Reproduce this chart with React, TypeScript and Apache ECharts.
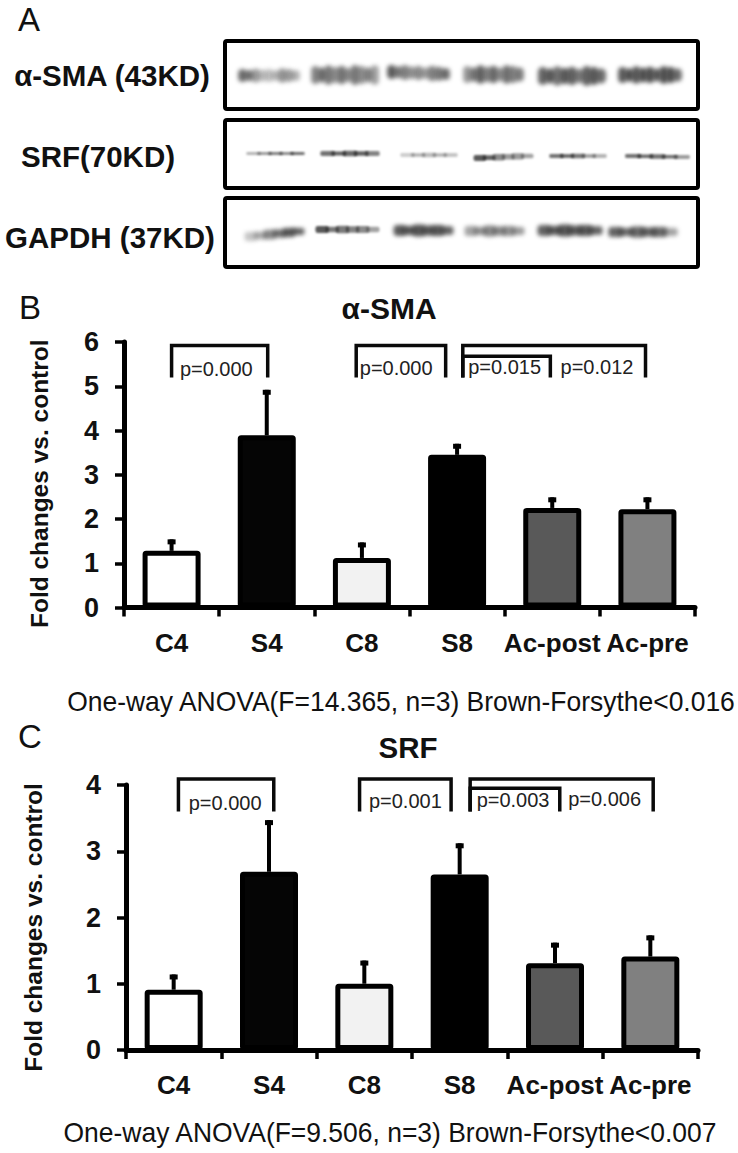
import React, { useEffect, useRef } from "react";
import * as echarts from "echarts";

const FONT = '"Liberation Sans", Arial, sans-serif';

const categories = ["C4", "S4", "C8", "S8", "Ac-post", "Ac-pre"];
const barColors = ["#ffffff", "#050505", "#f2f2f2", "#000000", "#595959", "#808080"];

const smaValues = [1.28, 3.89, 1.12, 3.45, 2.25, 2.22];
const smaErrorTops = [1.54, 4.92, 1.47, 3.7, 2.49, 2.49];
const srfValues = [0.91, 2.69, 1.0, 2.65, 1.31, 1.41];
const srfErrorTops = [1.14, 3.47, 1.35, 3.12, 1.62, 1.73];

// [from category, to category, top, bottom, label, label at category, label value]
const smaBrackets = [
  [0, 1.01, 5.92, 5.2, "p=0.000", 0.47, 5.38],
  [1.94, 2.88, 5.92, 5.2, "p=0.000", 2.36, 5.41],
  [3.06, 4.98, 5.92, 5.2, "p=0.012", 4.47, 5.43],
  [3.06, 3.98, 5.68, 5.2, "p=0.015", 3.5, 5.43],
];
const srfBrackets = [
  [0.05, 1.05, 4.09, 3.6, "p=0.000", 0.54, 3.73],
  [1.95, 2.91, 4.09, 3.6, "p=0.001", 2.43, 3.76],
  [3.11, 5.03, 4.09, 3.6, "p=0.006", 4.52, 3.79],
  [3.11, 4.05, 3.95, 3.6, "p=0.003", 3.56, 3.77],
];

// x0, x1, yTop, yBottom, tilt, lengthwise darkness
const blotBands = [
  [239, 299, 69, 82, 0, [0.85, 0.8, 0.55, 0.38, 0.35, 0.42, 0.6, 0.55, 0.45]],
  [312, 378, 66, 84, 0, [0.7, 0.82, 0.75, 0.62, 0.78, 0.65, 0.75, 0.62, 0.7, 0.55]],
  [388, 449, 67, 81, -2, [0.95, 0.75, 0.7, 0.6, 0.65, 0.55, 0.7, 0.75, 0.85]],
  [464, 523, 66, 83, 0, [0.6, 0.78, 0.9, 0.7, 0.85, 0.65, 0.8, 0.7, 0.75]],
  [539, 605, 67, 85, 0, [0.9, 0.95, 0.8, 0.95, 0.9, 0.75, 0.9, 0.95, 0.85]],
  [619, 681, 67, 83, 0, [0.95, 1, 0.95, 1, 1, 0.95, 1, 1, 0.85]],
  [248, 303, 152, 155, 0, [0.45, 0.7, 0.75, 0.8, 0.85]],
  [322, 378, 151, 156, 0, [0.85, 0.95, 0.9, 0.95, 0.75]],
  [402, 456, 153, 157, 0, [0.3, 0.45, 0.4, 0.45, 0.35]],
  [475, 532, 153, 159, 2, [1, 0.95, 0.7, 0.6, 0.6, 0.55]],
  [551, 605, 154, 158, 0, [0.85, 0.95, 0.8, 0.6, 0.45]],
  [627, 688, 155, 159, -1, [0.85, 0.9, 0.85, 0.85, 0.6]],
  [246, 303, 227, 236, 5, [0.35, 0.5, 0.7, 0.85, 1, 0.95]],
  [317, 378, 226, 233, 0, [1, 0.8, 0.8, 0.75, 0.7, 0.55]],
  [395, 452, 225, 236, 0, [1, 1, 1, 1, 1, 0.95]],
  [466, 523, 226, 236, 0, [0.55, 0.65, 0.7, 0.7, 0.65, 0.6]],
  [539, 601, 225, 236, 0, [0.95, 1, 1, 1, 1, 0.95]],
  [610, 676, 227, 237, 0, [0.95, 0.9, 0.9, 0.95, 0.9, 0.55]],
];
const bandThickness = [1, 0.82, 1.08, 0.9, 1.02, 0.78, 1.1];

const blotLabels = [
  ["α-SMA (43KD)", 112, 75],
  ["SRF(70KD)", 98, 156],
  ["GAPDH (37KD)", 110, 237],
];

function makeBlotImage(): string {
  const c = document.createElement("canvas");
  c.width = 738;
  c.height = 280;
  const ctx = c.getContext("2d")!;
  ctx.fillStyle = "#fff";
  ctx.fillRect(0, 0, 738, 280);
  blotBands.forEach((b: any) => {
    const [x0, x1, y0, y1, tilt, dark] = b;
    const thin = y1 - y0 < 8;
    ctx.filter = thin ? "blur(0.8px)" : "blur(2px)";
    const n = dark.length;
    const w = (x1 - x0) / n;
    for (let i = 0; i < n; i++) {
      const off = tilt * (1 - i / (n - 1));
      const h = (y1 - y0) * bandThickness[i % bandThickness.length];
      ctx.fillStyle = `rgba(25,25,25,${dark[i] * 0.72})`;
      ctx.beginPath();
      ctx.roundRect(x0 + i * w - w * 0.15, (y0 + y1) / 2 + off - h / 2, w * 1.3, h, h / 3);
      ctx.fill();
    }
  });
  ctx.filter = "none";
  return c.toDataURL("image/png");
}

function errorSeries(tops: number[], values: number[], xAxisIndex: number, yAxisIndex: number) {
  return {
    type: "custom",
    xAxisIndex,
    yAxisIndex,
    z: 1,
    silent: true,
    data: tops.map((t, i) => [i, values[i], t]),
    encode: { x: 0, y: [1, 2] },
    renderItem: (_: any, api: any) => {
      const a = api.coord([api.value(0), api.value(1)]);
      const b = api.coord([api.value(0), api.value(2)]);
      return {
        type: "group",
        children: [
          { type: "line", shape: { x1: a[0], y1: a[1], x2: b[0], y2: b[1] }, style: { stroke: "#000", lineWidth: 4 } },
          { type: "rect", shape: { x: b[0] - 4, y: b[1], width: 8, height: 5 }, style: { fill: "#000" } },
        ],
      };
    },
  };
}

function bracketSeries(data: any[], xAxisIndex: number, yAxisIndex: number) {
  return {
    type: "custom",
    xAxisIndex,
    yAxisIndex,
    z: 5,
    silent: true,
    clip: false,
    data,
    encode: { x: 0, y: 2 },
    renderItem: (_: any, api: any) => {
      const tl = api.coord([api.value(0), api.value(2)]);
      const br = api.coord([api.value(1), api.value(3)]);
      const lb = api.coord([api.value(5), api.value(6)]);
      return {
        type: "group",
        children: [
          {
            type: "polyline",
            shape: { points: [[tl[0], br[1]], [tl[0], tl[1]], [br[0], tl[1]], [br[0], br[1]]] },
            style: { stroke: "#0a0a0a", lineWidth: 3.5, fill: "none" },
          },
          {
            type: "text",
            x: lb[0],
            y: lb[1],
            style: {
              text: api.value(4),
              fill: "#222",
              font: `20px ${FONT}`,
              align: "center",
              verticalAlign: "middle",
            },
          },
        ],
      };
    },
  };
}

function makeAxes(gridIndex: number, max: number, gap: number, pad: number) {
  const tick = { show: true, length: 9, lineStyle: { color: "#000", width: 3.5 } };
  return {
    x: [
      {
        type: "category",
        gridIndex,
        data: categories,
        axisLine: { show: true, lineStyle: { color: "#000", width: 5 } },
        axisTick: tick,
        axisLabel: { color: "#111", fontFamily: FONT, fontWeight: "bold", fontSize: 26, margin: 22, interval: 0, hideOverlap: false },
      },
      { type: "value", gridIndex, min: -0.5, max: 5.5, show: false },
    ],
    y: {
      type: "value",
      gridIndex,
      min: 0,
      max,
      interval: 1,
      splitLine: { show: false },
      axisLine: { show: true, onZero: false, lineStyle: { color: "#000", width: 5 } },
      axisTick: tick,
      axisLabel: { color: "#111", fontFamily: FONT, fontWeight: "bold", fontSize: 27, margin: 25 },
      name: "Fold changes vs. control",
      nameLocation: "middle",
      nameRotate: 90,
      nameGap: gap,
      nameTextStyle: { color: "#111", fontFamily: FONT, fontWeight: "bold", fontSize: 24.5, padding: [0, pad, 0, 0] },
    },
  };
}

function freeText(text: string, x: number, y: number, size: number, weight = "normal", align = "left", scaleX = 1) {
  return {
    type: "text",
    x,
    y,
    scaleX,
    style: { text, fill: "#111", font: `${weight} ${size}px ${FONT}`, align, verticalAlign: "middle" },
  };
}

export default function App() {
  const ref = useRef<HTMLDivElement>(null);
  useEffect(() => {
    const chart = echarts.init(ref.current!, undefined, { renderer: "svg" });
    const b = makeAxes(0, 6, 72, 18);
    const c = makeAxes(1, 4, 80, 20);
    const bars = (values: number[], i: number) => ({
      type: "bar",
      xAxisIndex: i === 0 ? 0 : 2,
      yAxisIndex: i,
      barWidth: 58,
      z: 2,
      silent: true,
      data: values.map((v, k) => ({
        value: v,
        itemStyle: { color: barColors[k], borderColor: "#000", borderWidth: 5, borderRadius: 1 },
      })),
    });
    chart.setOption({
      animation: false,
      backgroundColor: "#fff",
      grid: [
        { left: 124, right: 43, top: 342, height: 265.5 },
        { left: 126, right: 40, top: 785, height: 265 },
      ],
      xAxis: [...b.x, ...c.x],
      yAxis: [b.y, c.y],
      series: [
        errorSeries(smaErrorTops, smaValues, 1, 0),
        bars(smaValues, 0),
        bracketSeries(smaBrackets, 1, 0),
        errorSeries(srfErrorTops, srfValues, 3, 1),
        bars(srfValues, 1),
        bracketSeries(srfBrackets, 3, 1),
      ],
      graphic: [
        { type: "image", x: 0, y: 0, z: -1, style: { image: makeBlotImage(), x: 0, y: 0, width: 738, height: 280 } },
        ...[[41, 68], [120, 68], [198, 69]].map(([y, h]) => ({
          type: "rect",
          shape: { x: 225, y, width: 473, height: h, r: 2 },
          style: { fill: "none", stroke: "#000", lineWidth: 4 },
        })),
        ...blotLabels.map(([t, x, y]: any) => freeText(t, x, y, 29.5, "bold", "center")),
        freeText("A", 18, 19, 33),
        freeText("B", 19, 307, 33),
        freeText("C", 18, 736, 33),
        freeText("α-SMA", 389, 308, 30, "bold", "center"),
        freeText("SRF", 408, 747, 29.5, "bold", "center"),
        freeText("One-way ANOVA(F=14.365, n=3) Brown-Forsythe<0.016", 401, 702, 27, "normal", "center", 0.98),
        freeText("One-way ANOVA(F=9.506, n=3) Brown-Forsythe<0.007", 390, 1133, 27, "normal", "center", 0.98),
      ],
    });
    return () => chart.dispose();
  }, []);
  return <div ref={ref} style={{ position: "absolute", left: 0, top: 0, width: 738, height: 1153 }} />;
}
